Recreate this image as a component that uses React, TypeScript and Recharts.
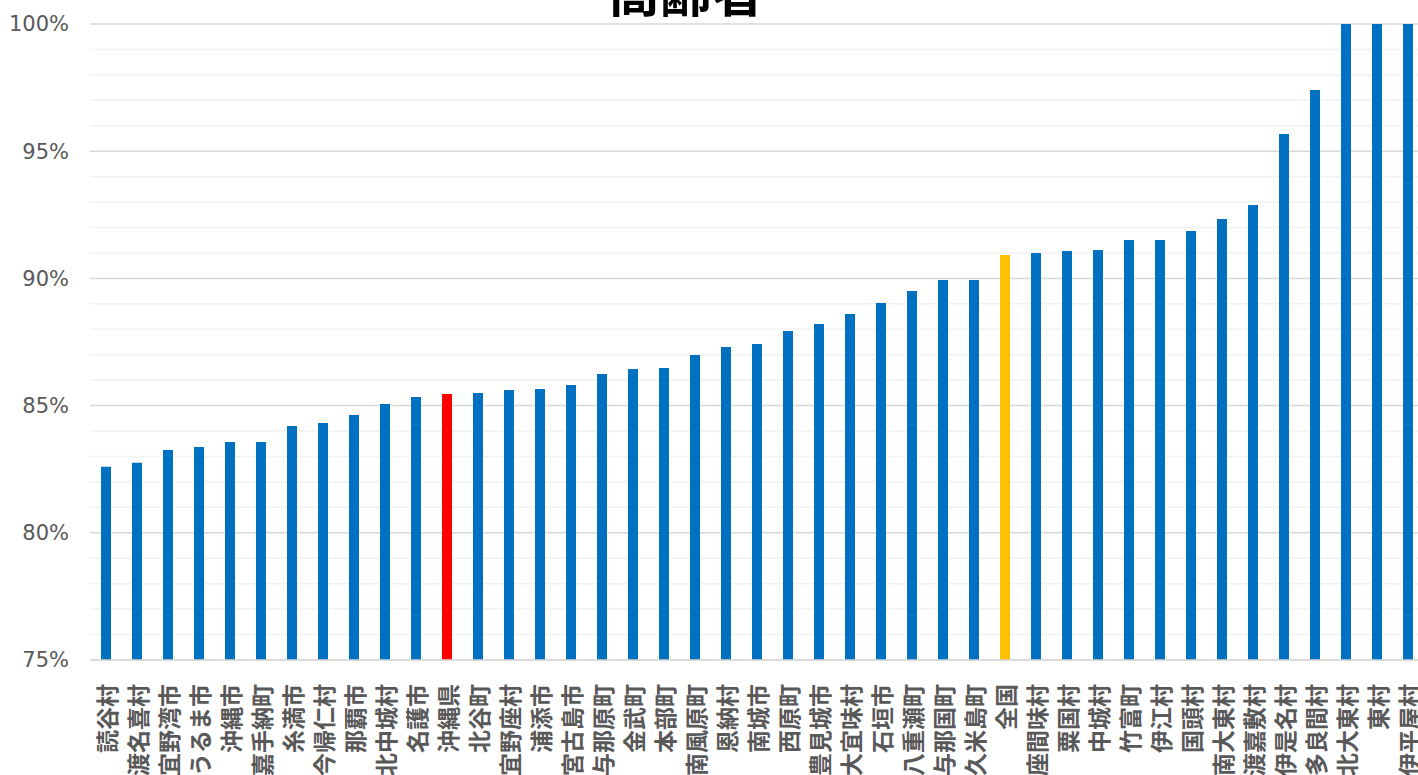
import React from "react";
import {
  BarChart,
  Bar,
  XAxis,
  YAxis,
  CartesianGrid,
  Cell,
} from "recharts";

const municipalities = [
  "読谷村", "渡名喜村", "宜野湾市", "うるま市", "沖縄市", "嘉手納町", "糸満市",
  "今帰仁村", "那覇市", "北中城村", "名護市", "沖縄県", "北谷町", "宜野座村",
  "浦添市", "宮古島市", "与那原町", "金武町", "本部町", "南風原町", "恩納村",
  "南城市", "西原町", "豊見城市", "大宜味村", "石垣市", "八重瀬町", "与那国町",
  "久米島町", "全国", "座間味村", "粟国村", "中城村", "竹富町", "伊江村",
  "国頭村", "南大東村", "渡嘉敷村", "伊是名村", "多良間村", "北大東村", "東村",
  "伊平屋村",
];

const rates = [
  82.6, 82.75, 83.25, 83.37, 83.57, 83.57, 84.2,
  84.32, 84.63, 85.06, 85.34, 85.46, 85.5, 85.61,
  85.65, 85.81, 86.24, 86.44, 86.48, 86.99, 87.3,
  87.42, 87.93, 88.21, 88.6, 89.03, 89.5, 89.94,
  89.94, 90.92, 91.0, 91.08, 91.12, 91.51, 91.51,
  91.86, 92.33, 92.89, 95.68, 97.41, 100, 100,
  100,
];

const majorTicks = [75, 80, 85, 90, 95, 100];
const minorTicks = [
  76, 77, 78, 79, 81, 82, 83, 84, 86, 87, 88, 89,
  91, 92, 93, 94, 96, 97, 98, 99,
];

const BLUE = "#0070C0";
const RED = "#FF0000";
const YELLOW = "#FFC000";

const data = municipalities.map((name, i) => ({ name, value: rates[i] }));

function barColor(name: string) {
  if (name === "沖縄県") return RED;
  if (name === "全国") return YELLOW;
  return BLUE;
}

function NameTick(props: any) {
  const { x, y, payload } = props;
  const ty = y + 16;
  return (
    <text
      x={x}
      y={ty}
      transform={`rotate(-90, ${x}, ${ty})`}
      textAnchor="end"
      dominantBaseline="central"
      fill="#595959"
      fontSize={23}
      fontWeight="bold"
      fontFamily="'Noto Sans CJK JP', sans-serif"
    >
      {payload.value}
    </text>
  );
}

export default function App() {
  return (
    <div
      style={{
        position: "absolute",
        left: 0,
        top: 0,
        width: 1418,
        height: 775,
        overflow: "hidden",
        background: "#fff",
      }}
    >
      <BarChart
        width={1423}
        height={775}
        data={data}
        margin={{ top: 24, right: 0, left: 0, bottom: 0 }}
        barCategoryGap={0}
      >
        <CartesianGrid
          horizontalValues={minorTicks}
          vertical={false}
          stroke="#f2f2f2"
          strokeWidth={1.5}
        />
        <CartesianGrid
          horizontalValues={majorTicks}
          vertical={false}
          stroke="#d9d9d9"
          strokeWidth={1.5}
        />
        <XAxis
          dataKey="name"
          interval={0}
          tick={<NameTick />}
          tickLine={false}
          axisLine={{ stroke: "#d9d9d9", strokeWidth: 1.5 }}
          height={115}
        />
        <YAxis
          domain={[75, 100]}
          ticks={majorTicks}
          allowDataOverflow
          width={90}
          axisLine={false}
          tickLine={false}
          tickSize={0}
          tickMargin={21}
          tickFormatter={(v: number) => `${v}%`}
          tick={{
            fill: "#595959",
            fontSize: 21,
            fontFamily: "'DejaVu Sans', sans-serif",
          }}
        />
        <Bar dataKey="value" barSize={10} isAnimationActive={false}>
          {data.map((d) => (
            <Cell key={d.name} fill={barColor(d.name)} />
          ))}
        </Bar>
      </BarChart>
      <svg
        width={1418}
        height={40}
        style={{ position: "absolute", left: 0, top: 0 }}
      >
        <text
          x={686}
          y={12}
          textAnchor="middle"
          fontSize={52}
          fontWeight="bold"
          fontFamily="'Noto Sans CJK JP', sans-serif"
          fill="#000"
        >
          高齢者
        </text>
      </svg>
    </div>
  );
}
